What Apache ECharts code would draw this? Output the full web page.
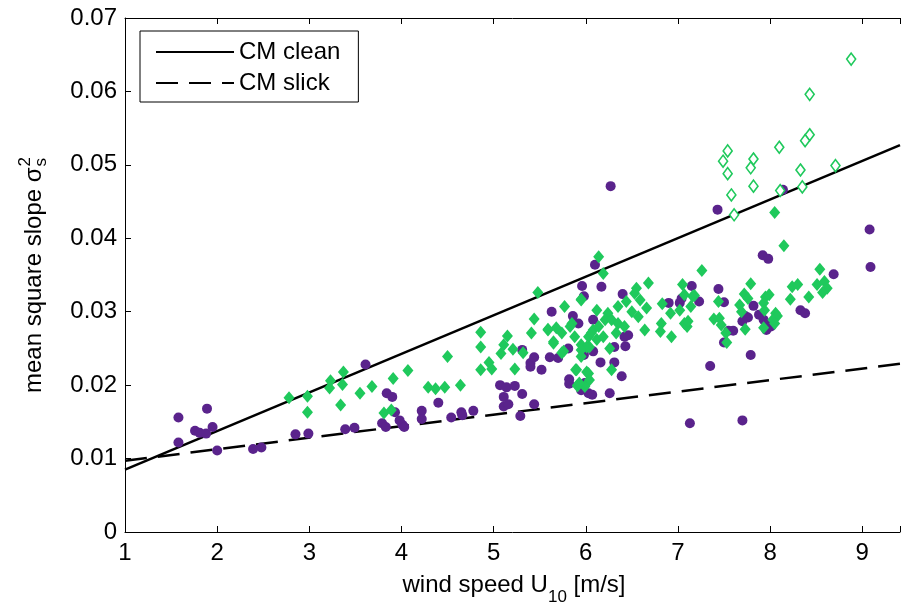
<!DOCTYPE html>
<html><head><meta charset="utf-8">
<script src="https://cdn.jsdelivr.net/npm/echarts@6/dist/echarts.min.js"></script>
<style>html,body{margin:0;padding:0;background:#fff}#c{width:903px;height:606px}</style>
</head><body><div id="c"></div>
<script>
// ---- data ----
const xTickLabels = ['1','2','3','4','5','6','7','8','9'];
const yTickLabels = ['0','0.01','0.02','0.03','0.04','0.05','0.06','0.07'];
const cleanLine = [[1,0.0085],[9.41,0.0527]];
const slickLine = [[1,0.0097],[9.41,0.0229]];
const purpleCircles = [
[1.58,0.0156],[1.58,0.0122],[1.76,0.0138],[1.81,0.0135],[1.88,0.0134],[1.89,0.0168],[1.95,0.0143],[2.00,0.0111],
[2.39,0.0113],[2.48,0.0115],[2.85,0.0133],[2.99,0.0134],[3.39,0.0140],[3.49,0.0142],[3.61,0.0228],
[3.84,0.0189],[3.90,0.0184],[3.79,0.0148],[3.83,0.0143],[3.93,0.0163],[3.98,0.0152],[4.01,0.0146],[4.03,0.0143],
[4.22,0.0165],[4.22,0.0154],[4.40,0.0176],[4.54,0.0156],[4.65,0.0163],[4.66,0.0159],
[4.78,0.0165],[5.07,0.0200],[5.14,0.0197],[5.23,0.0199],[5.11,0.0184],[5.31,0.0188],[5.11,0.0171],[5.16,0.0174],[5.29,0.0158],[5.44,0.0174],
[5.31,0.0248],[5.40,0.0230],[5.44,0.0238],[5.52,0.0221],[5.40,0.0225],[5.63,0.0300],[5.61,0.0238],[5.70,0.0237],[5.86,0.0294],[5.81,0.0250],[5.82,0.0208],[5.82,0.0202],
[5.96,0.0335],[5.98,0.0321],[6.17,0.0334],[6.40,0.0324],[5.98,0.0241],[6.08,0.0246],[6.16,0.0231],[6.31,0.0231],[6.26,0.0189],[6.39,0.0212],[6.03,0.0189],
[5.95,0.0193],[6.08,0.0289],[5.92,0.0284],[6.42,0.0266],
[6.10,0.0364],[6.90,0.0312],[7.02,0.0312],[7.04,0.0318],[7.15,0.0335],[7.23,0.0314],[7.44,0.0331],[7.50,0.0258],[7.35,0.0226],[7.13,0.0148],
[6.46,0.0268],[6.43,0.0253],[6.31,0.0252],[5.99,0.0203],[6.07,0.0187],
[7.92,0.0377],[7.98,0.0372],[8.69,0.0351],[7.50,0.0313],[7.82,0.0308],[7.73,0.0294],[7.76,0.0292],[7.70,0.0287],[7.88,0.0296],[7.93,0.0289],[7.97,0.0283],[8.01,0.0280],[7.96,0.0275],[7.55,0.0274],[7.60,0.0274],[8.33,0.0302],[8.38,0.0298],[7.79,0.0241],[7.70,0.0152],
[9.08,0.0412],[9.09,0.0361],[7.43,0.0439],[8.14,0.0466],[6.27,0.0471]
];
const greenDiamonds = [
[2.78,0.0183],[2.98,0.0185],[2.98,0.0163],[3.23,0.0206],[3.22,0.0196],[3.37,0.0218],[3.36,0.0201],[3.34,0.0173],[3.55,0.0189],[3.68,0.0198],
[3.91,0.0209],[4.07,0.0220],[3.81,0.0162],[3.89,0.0166],[4.29,0.0197],[4.37,0.0195],[4.47,0.0197],[4.64,0.0200],[4.50,0.0239],
[4.86,0.0221],[4.86,0.0252],[4.86,0.0272],[4.95,0.0231],[4.98,0.0222],[5.08,0.0243],[5.11,0.0255],[5.15,0.0267],[5.21,0.0249],[5.23,0.0222],[5.32,0.0244],[5.41,0.0271],[5.44,0.0290],[5.48,0.0326],[5.59,0.0276],[5.65,0.0259],[5.77,0.0307],[5.76,0.0246],[5.85,0.0284],[5.89,0.0221],[5.91,0.0199],[5.95,0.0317],
[6.14,0.0375],[6.19,0.0352],[5.95,0.0316],[6.68,0.0339],[6.55,0.0332],[6.53,0.0325],[6.44,0.0314],[6.35,0.0307],[6.24,0.0298],[6.12,0.0302],
[7.26,0.0356],[7.05,0.0337],[7.07,0.0323],[7.18,0.0322],[7.14,0.0307],
[6.83,0.0311],[6.92,0.0298],[6.82,0.0284],[6.81,0.0273],[6.93,0.0266],[7.02,0.0302],[7.07,0.0284],[7.10,0.0280],[6.64,0.0275],
[7.39,0.0290],[7.45,0.0291],[7.44,0.0314],[7.52,0.0271],[7.47,0.0282],
[5.59,0.0275],[5.68,0.0278],[5.74,0.0271],[5.83,0.0280],[5.65,0.0257],[5.88,0.0266],[5.95,0.0255],[6.03,0.0266],[6.08,0.0275],[6.14,0.0280],[6.21,0.0289],[6.28,0.0289],[6.35,0.0284],[6.42,0.0280],[6.04,0.0252],[6.12,0.0262],[6.19,0.0266],[6.26,0.0250],[6.33,0.0271],[5.95,0.0239],[5.74,0.0244],[5.90,0.0221],[5.91,0.0200],[6.03,0.0216],[6.28,0.0221],
[6.01,0.0218],[6.04,0.0207],[5.99,0.0198],[5.93,0.0203],
[6.50,0.0300],[6.57,0.0293],[6.59,0.0316],[6.66,0.0305],[6.06,0.0271],[6.01,0.0252],[5.95,0.0248],
[7.79,0.0338],[8.54,0.0358],[8.24,0.0334],[8.30,0.0337],[8.51,0.0337],[8.59,0.0341],[8.62,0.0332],[8.57,0.0326],[8.22,0.0317],[8.42,0.0320],
[7.16,0.0321],[7.11,0.0287],[7.72,0.0324],[7.76,0.0318],[7.67,0.0309],[7.69,0.0300],[7.95,0.0320],[7.99,0.0323],[7.93,0.0312],[7.94,0.0302],[8.06,0.0298],[8.08,0.0294],[8.03,0.0289],[8.05,0.0284],[7.73,0.0276],[7.93,0.0278],[7.53,0.0258],
[8.15,0.0390],[8.05,0.0435]
];
const greenHollow = [
[8.88,0.0644],[8.43,0.0596],[8.43,0.0541],[8.38,0.0533],[7.54,0.0519],[7.49,0.0505],[7.54,0.0488],[7.82,0.0508],[7.79,0.0496],[7.82,0.0471],
[8.10,0.0524],[8.33,0.0493],[8.35,0.0470],[8.71,0.0499],[7.58,0.0459],[7.61,0.0432],[8.11,0.0465]
];
const legendNames = ['CM clean','CM slick'];
const xTitle = ['wind speed U','10',' [m/s]'];
const yTitle = ['mean square slope σ','2','s'];

// ---- chart ----
const FONT = '"Liberation Sans", Arial, Helvetica, sans-serif';
const ctx = document.createElement('canvas').getContext('2d');
function tw(t, s){ ctx.font = s + 'px ' + FONT; return ctx.measureText(t).width; }
const FS = 24, SS = 17;
const purple = '#5a238c', green = '#1fc95c';

const xw0 = tw(xTitle[0], FS), xw1 = tw(xTitle[1], SS), xw2 = tw(xTitle[2], FS);
const xTot = xw0 + xw1 + xw2;
const yw0 = tw(yTitle[0], FS), yw1 = Math.max(tw(yTitle[1], SS), tw(yTitle[2], SS));
const yTot = yw0 + yw1 + 1;

const chart = echarts.init(document.getElementById('c'), null, {renderer:'canvas'});
const axisCommon = {
  type:'value', min:1, max:9.41, interval:1,
  axisLine:{show:true, onZero:false, lineStyle:{color:'#000', width:1}},
  axisTick:{show:true, inside:true, length:6, lineStyle:{color:'#000', width:1}},
  splitLine:{show:false}
};
chart.setOption({
  animation:false,
  backgroundColor:'#fff',
  textStyle:{fontFamily:FONT},
  grid:{left:125, right:0, top:18, bottom:74, containLabel:false},
  xAxis:[
    Object.assign({}, axisCommon, {position:'bottom',
      axisLabel:{show:true, margin:9, fontSize:FS, color:'#000', fontFamily:FONT,
        formatter:(v)=>{ const i = Math.round(v) - 1; return xTickLabels[i] !== undefined && Math.abs(v - Math.round(v)) < 1e-6 ? xTickLabels[i] : ''; }}}),
    Object.assign({}, axisCommon, {position:'top', axisLabel:{show:false}})
  ],
  yAxis:[{
    type:'value', min:0, max:0.07, interval:0.01,
    axisLine:{show:true, lineStyle:{color:'#000', width:1}},
    axisTick:{show:true, inside:true, length:6, lineStyle:{color:'#000', width:1}},
    splitLine:{show:false},
    axisLabel:{show:true, margin:8, fontSize:FS, color:'#000', fontFamily:FONT,
      formatter:(v)=>yTickLabels[Math.round(v*100)]}
  }],
  legend:{
    data:legendNames, orient:'vertical', left:140, top:31,
    padding:[9,18,7,15], itemGap:7, itemWidth:78, itemHeight:20,
    backgroundColor:'#fff', borderColor:'#000', borderWidth:1, borderRadius:0,
    itemStyle:{color:'rgba(0,0,0,0)', borderWidth:0, opacity:0},
    textStyle:{fontSize:FS, color:'#000', fontFamily:FONT}
  },
  series:[
    {name:legendNames[0], type:'line', data:cleanLine, symbol:'none', z:2,
     lineStyle:{color:'#000', width:2.5, type:'solid'}, itemStyle:{color:'#000'}},
    {name:legendNames[1], type:'line', data:slickLine, symbol:'none', z:2,
     lineStyle:{color:'#000', width:2.5, type:[22,11]}, itemStyle:{color:'#000'}},
    {name:'purple', type:'scatter', data:purpleCircles, symbol:'circle', symbolSize:10, z:3,
     itemStyle:{color:purple, opacity:1}},
    {name:'green', type:'scatter', data:greenDiamonds, symbol:'diamond', symbolSize:[11,13], z:4,
     itemStyle:{color:green, opacity:1}},
    {name:'hollow', type:'scatter', data:greenHollow, symbol:'diamond', symbolSize:[9,12], z:4,
     itemStyle:{color:'#fff', borderColor:green, borderWidth:1.6, opacity:1}}
  ],
  graphic:[
    {type:'group', x:514, y:585, children:[
      {type:'text', x:-xTot/2, y:0, style:{text:xTitle[0], fontSize:FS, fontFamily:FONT, fill:'#000', align:'left', verticalAlign:'middle'}},
      {type:'text', x:-xTot/2 + xw0, y:12, style:{text:xTitle[1], fontSize:SS, fontFamily:FONT, fill:'#000', align:'left', verticalAlign:'middle'}},
      {type:'text', x:-xTot/2 + xw0 + xw1, y:0, style:{text:xTitle[2], fontSize:FS, fontFamily:FONT, fill:'#000', align:'left', verticalAlign:'middle'}}
    ]},
    {type:'group', x:34, y:275, rotation:Math.PI/2, children:[
      {type:'text', x:-yTot/2, y:0, style:{text:yTitle[0], fontSize:FS, fontFamily:FONT, fill:'#000', align:'left', verticalAlign:'middle'}},
      {type:'text', x:-yTot/2 + yw0 + 1, y:-9, style:{text:yTitle[1], fontSize:SS, fontFamily:FONT, fill:'#000', align:'left', verticalAlign:'middle'}},
      {type:'text', x:-yTot/2 + yw0 + 1, y:7, style:{text:yTitle[2], fontSize:SS, fontFamily:FONT, fill:'#000', align:'left', verticalAlign:'middle'}}
    ]}
  ]
});
</script>
</body></html>
